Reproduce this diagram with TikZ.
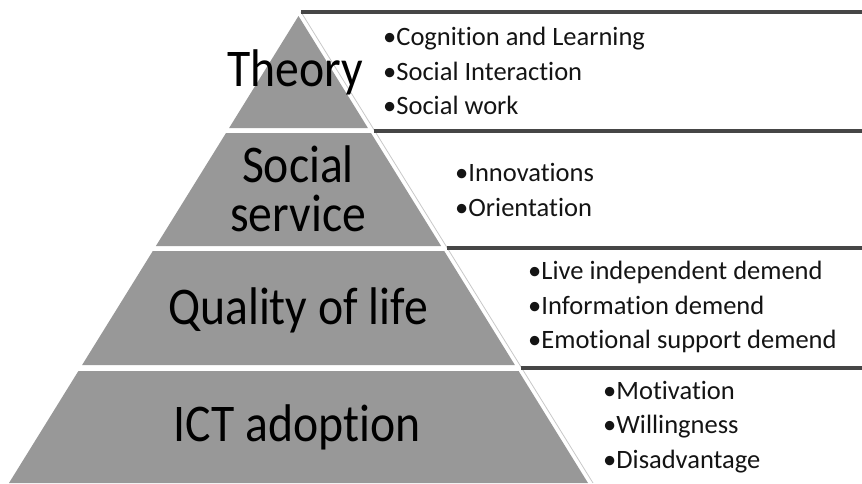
\documentclass[tikz,border=0pt]{standalone}
\usepackage{fontspec}
\setmainfont{Carlito}[Ligatures={NoCommon,NoContextual}]
\newfontfamily\titlefont{Carlito}[FakeStretch=0.9,Ligatures={NoCommon,NoContextual}]
\newfontfamily\listfont{Carlito}[Ligatures={NoCommon,NoContextual}]
\definecolor{pyrgray}{RGB}{152,152,152}
\definecolor{linegray}{RGB}{70,70,70}
\definecolor{edgegray}{RGB}{200,200,200}
\tikzset{
  layer/.style={fill=pyrgray, draw=none},
  boxline/.style={draw=linegray, line width=4.3pt},
  boxedge/.style={draw=edgegray, line width=0.8pt},
  title/.style={font=\titlefont\fontsize{53}{49}\selectfont, align=center, inner sep=0pt, text=black},
  listtext/.style={font=\listfont\fontsize{26.5}{34.5}\selectfont, align=left, inner sep=0pt, anchor=west, text=black!92}
}
\begin{document}
\begin{tikzpicture}[x=1pt,y=-1pt]
\useasboundingbox (0,0) rectangle (862,483);
% pyramid layers
\path[layer] (298.5,16) -- (367.9,128) -- (229.1,128) -- cycle;
\path[layer] (226.0,133) -- (371.0,133) -- (441.1,246) -- (155.9,246) -- cycle;
\path[layer] (152.8,251) -- (444.2,251) -- (514.9,365) -- (82.1,365) -- cycle;
\path[layer] (78.4,371) -- (518.6,371) -- (588.0,483) -- (9.0,483) -- cycle;
% boxes
\coordinate (b0l) at (301,12);
\coordinate (b1l) at (374,131);
\coordinate (b2l) at (447,248);
\coordinate (b3l) at (521,368);
\coordinate (b4l) at (593,483);
\coordinate (b0r) at (862,12);
\coordinate (b1r) at (862,131);
\coordinate (b2r) at (862,248);
\coordinate (b3r) at (862,368);
\draw[boxedge] (b0l) -- (b4l);
\draw[boxline] (b0l) -- (b0r);
\draw[boxline] (b1l) -- (b1r);
\draw[boxline] (b2l) -- (b2r);
\draw[boxline] (b3l) -- (b3r);
% titles
\node[title] (t1) at (295,72) {Theory};
\node[title] (t2) at (298,189) {Social\\service};
\node[title] (t3) at (298,310) {Quality of life};
\node[title] (t4) at (297,427) {ICT adoption};
% lists
\node[listtext] (l1) at (383,71) {•Cognition and Learning\\•Social Interaction\\•Social work};
\node[listtext] (l2) at (455,190) {•Innovations\\•Orientation};
\node[listtext] (l3) at (528,307) {•Live independent demend\\•Information demend\\•Emotional support demend};
\node[listtext] (l4) at (603,427) {•Motivation\\•Willingness\\•Disadvantage};
\end{tikzpicture}
\end{document}
